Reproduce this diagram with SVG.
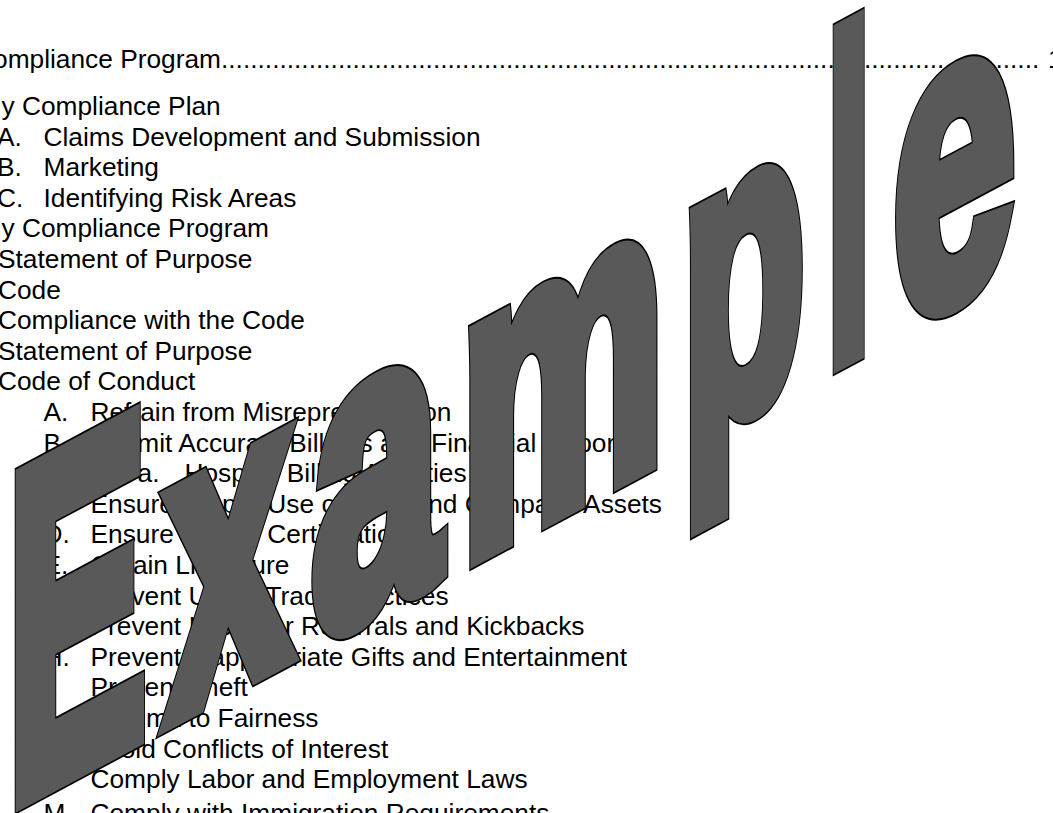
<svg xmlns="http://www.w3.org/2000/svg" xmlns:xlink="http://www.w3.org/1999/xlink" width="1053" height="813" viewBox="0 0 1053 813">
<style>
.t{font-family:"Liberation Sans",Arial,sans-serif;font-size:26.3px;fill:#000}
.wm{font-family:"Liberation Sans",Arial,sans-serif;font-weight:bold;font-size:100px}
.wm, .wm tspan{vector-effect:non-scaling-stroke}
.wm-edge{fill:#000;stroke:#000;stroke-width:19px;stroke-linejoin:miter;stroke-miterlimit:10}
.wm-body{fill:#595959;stroke:#595959;stroke-width:16px;stroke-linejoin:miter;stroke-miterlimit:10}
</style>
<defs>
<text id="wm-word" class="wm" vector-effect="non-scaling-stroke" transform="matrix(2.15,-1.1524,0,4.74,0,811)" y="0"><tspan vector-effect="non-scaling-stroke" x="2.75" font-size="99">E</tspan><tspan vector-effect="non-scaling-stroke" x="77.14" font-size="89" textLength="58.3" lengthAdjust="spacingAndGlyphs">x</tspan><tspan vector-effect="non-scaling-stroke" x="144.7" font-size="89" textLength="60.1" lengthAdjust="spacingAndGlyphs">a</tspan><tspan vector-effect="non-scaling-stroke" x="213.82" font-size="89" textLength="95.6" lengthAdjust="spacingAndGlyphs">m</tspan><tspan vector-effect="non-scaling-stroke" x="316.99" font-size="89" textLength="57.6" lengthAdjust="spacingAndGlyphs">p</tspan><tspan vector-effect="non-scaling-stroke" x="383.92" font-size="95.8" textLength="21.7" lengthAdjust="spacingAndGlyphs">l</tspan><tspan vector-effect="non-scaling-stroke" x="415.2" font-size="89" textLength="57.2" lengthAdjust="spacingAndGlyphs">e</tspan></text>
</defs>
<rect width="1053" height="813" fill="#fff"/>
<g id="document-text">
<text class="t" x="-7" y="68">ompliance Program................................................................................................................</text>
<text class="t" x="1048" y="68">1</text>
<text class="t" x="1.5" y="115">y Compliance Plan</text>
<text class="t" x="-3" y="145.6">A.</text><text class="t" x="43.5" y="145.6">Claims Development and Submission</text>
<text class="t" x="-3" y="176.2">B.</text><text class="t" x="43.5" y="176.2">Marketing</text>
<text class="t" x="-3" y="206.8">C.</text><text class="t" x="43.5" y="206.8">Identifying Risk Areas</text>
<text class="t" x="1.5" y="237.4">y Compliance Program</text>
<text class="t" x="-2" y="268">Statement of Purpose</text>
<text class="t" x="-2" y="298.6">Code</text>
<text class="t" x="-2" y="329.2">Compliance with the Code</text>
<text class="t" x="-2" y="359.8">Statement of Purpose</text>
<text class="t" x="-2" y="390.4">Code of Conduct</text>
<text class="t" x="43.5" y="421">A.</text><text class="t" x="90.5" y="421">Refrain from Misrepresentation</text>
<text class="t" x="43.5" y="451.6">B.</text><text class="t" x="90.5" y="451.6">Submit Accurate Billings and Financial Reports</text>
<text class="t" x="137.5" y="482.2">a.</text><text class="t" x="184.5" y="482.2">Hospital Billing Activities</text>
<text class="t" x="43.5" y="512.8">C.</text><text class="t" x="90.5" y="512.8">Ensure Proper Use of Data and Company Assets</text>
<text class="t" x="43.5" y="543.4">D.</text><text class="t" x="90.5" y="543.4">Ensure Proper Certification</text>
<text class="t" x="43.5" y="574">E.</text><text class="t" x="90.5" y="574">Obtain Licensure</text>
<text class="t" x="43.5" y="604.6">F.</text><text class="t" x="90.5" y="604.6">Prevent Unfair Trade Practices</text>
<text class="t" x="43.5" y="635.2">G.</text><text class="t" x="90.5" y="635.2">Prevent Improper Referrals and Kickbacks</text>
<text class="t" x="43.5" y="665.8">H.</text><text class="t" x="90.5" y="665.8">Prevent Inappropriate Gifts and Entertainment</text>
<text class="t" x="43.5" y="696.4">I.</text><text class="t" x="90.5" y="696.4">Prevent Theft</text>
<text class="t" x="43.5" y="727">J.</text><text class="t" x="90.5" y="727">Commit to Fairness</text>
<text class="t" x="43.5" y="757.6">K.</text><text class="t" x="90.5" y="757.6">Avoid Conflicts of Interest</text>
<text class="t" x="43.5" y="788.2">L.</text><text class="t" x="90.5" y="788.2">Comply Labor and Employment Laws</text>
<text class="t" x="43.5" y="822">M.</text><text class="t" x="90.5" y="822">Comply with Immigration Requirements</text>
</g>
<g id="watermark">
<use xlink:href="#wm-word" class="wm-edge"/>
<use xlink:href="#wm-word" class="wm-body"/>
</g>
</svg>
